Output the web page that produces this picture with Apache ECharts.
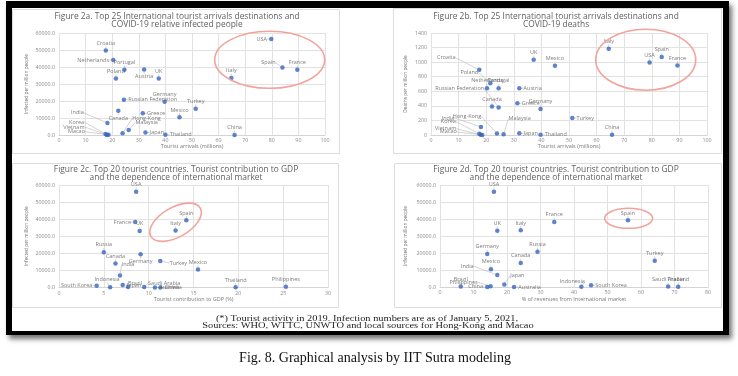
<!DOCTYPE html>
<html><head><meta charset="utf-8">
<script src="https://cdn.jsdelivr.net/npm/echarts@6/dist/echarts.min.js"></script>
<style>html,body{margin:0;padding:0;background:#fff}#c{width:738px;height:376px}</style>
</head><body><div id="c"></div>
<script>
// ---------- Figure 2a: arrivals vs infected per million ----------
const names2a = ['USA','Spain','France','Italy','Croatia','Netherlands','Portugal','Austria','UK','Poland','Russian Federation','Germany','Turkey','Greece','Canada','Mexico','India','Hong-Kong','Malaysia','Japan','Thailand','China','Korea','Vietnam','Macao'];
const arrivals2a = [79.8,84.0,89.6,64.8,17.6,20.4,24.6,32.0,37.5,21.4,24.4,39.7,51.4,31.5,22.3,45.3,18.2,23.9,26.2,32.5,40.0,66.0,17.5,18.0,18.6];
const infected2a = [56400,39700,38400,33600,49700,44100,38400,38500,33200,33200,20800,19500,15500,12800,14200,10400,7100,1000,2900,1400,100,60,600,30,150];

// ---------- Figure 2b: arrivals vs deaths per million ----------
const names2b = ['Italy','Spain','USA','France','UK','Mexico','Croatia','Poland','Netherlands','Portugal','Russian Federation','Austria','Greece','Canada','Germany','Turkey','Malaysia','Hong-Kong','Japan','Thailand','China','India','Korea','Vietnam','Macao'];
const arrivals2b = [64.4,83.6,79.2,89.3,37.2,44.9,17.5,21.5,20.3,24.5,24.5,32.0,31.3,22.1,39.7,51.2,26.3,23.9,32.0,39.7,65.6,18.1,17.5,18.0,18.6];
const deaths2b = [1184,1070,996,954,1033,950,895,712,643,643,376,643,436,390,358,234,10,20,23,3,3,110,18,3,1];

// ---------- Figures 2c / 2d: top 20 tourist countries ----------
const names20 = ['USA','Spain','France','Italy','UK','Russia','Germany','Turkey','Canada','Mexico','India','South Korea','Indonesia','Japan','Brazil','Saudi Arabia','Australia','China','Thailand','Philippines'];
const infected20 = [56000,39300,38300,33400,33100,20700,19400,15500,14100,10500,7000,1000,130,1500,300,300,30,60,100,430];
const gdpShare20 = [8.6,14.2,8.5,13.0,9.0,5.0,9.1,11.3,6.3,15.5,6.8,4.2,5.7,7.1,7.7,9.5,10.7,11.3,19.7,25.3];
const intlShare20 = [16.1,56.1,34.1,24.1,17.1,29.1,14.1,64.1,24.1,15.2,17.1,45.1,42.2,19.2,6.2,68.1,22.1,14.1,71.1,15.1];

// ---------- texts ----------
const titles = [
  ['Figure 2a. Top 25 International tourist arrivals destinations and','COVID-19 relative infected people'],
  ['Figure 2b. Top 25 International tourist arrivals destinations and','COVID-19 deaths'],
  ['Figure 2c. Top 20 tourist countries. Tourist contribution to GDP','and the dependence of international market'],
  ['Figure 2d. Top 20 tourist countries. Tourist contribution to GDP','and the dependence of international market']
];
const xNames = ['Tourist arrivals (millions)','Tourist arrivals (millions)','Tourist contribution to GDP (%)','% of revenues from International market'];
const yNames = ['Infected per million people','Deaths per million people','Infected per million people','Infected per million people'];
const footnote1 = '(*) Tourist activity in 2019. Infection numbers are as of January 5, 2021,';
const footnote2 = 'Sources: WHO, WTTC, UNWTO and local sources for Hong-Kong and Macao';
const caption = 'Fig. 8. Graphical analysis by IIT Sutra modeling';

// ---------- label placement (style) ----------
const place2a = {USA:'left',Spain:[-14,-5],France:'top',Italy:'top',Croatia:'top',Netherlands:'left',Portugal:'top',Austria:'bottom',UK:'top',Poland:'top','Russian Federation':'right',Germany:'top',Turkey:'top',Greece:'right',Canada:'bottom',Mexico:'top',India:[-30,-10],'Hong-Kong':[24,-15],Malaysia:[18,-8],Japan:'right',Thailand:'right',China:'top',Korea:[-29,-12],Vietnam:[-33,-8],Macao:[-32,-3]};
const place2b = {Italy:'top',Spain:'top',USA:'top',France:'top',UK:'top',Mexico:'top',Croatia:[-33,-12],Poland:[-21,-11],Netherlands:'top',Portugal:'top','Russian Federation':[-39,-19],Austria:'right',Greece:'right',Canada:'top',Germany:'top',Turkey:'right',Malaysia:[16,-16],'Hong-Kong':[-30,-17],Japan:'right',Thailand:'right',China:'top',India:[-33,-9],Korea:[-31,-12],Vietnam:[-35,-6],Macao:[-34,-3]};
const place2c = {USA:'top',Spain:'top',France:'left',Italy:'top',UK:'top',Russia:'top',Germany:'bottom',Turkey:[18,2],Canada:'top',Mexico:'top',India:[8,-11],'South Korea':'left',Indonesia:[-3,-8],Japan:'right',Brazil:[7,-4],'Saudi Arabia':[20,-4],Australia:'right',China:'right',Thailand:'top',Philippines:'top'};
const place2d = {USA:'top',Spain:'top',France:'top',Italy:'top',UK:'top',Russia:'top',Germany:'top',Turkey:'top',Canada:'top',Mexico:'top',India:[-30,-9],'South Korea':'right',Indonesia:[-9,-5],Japan:[13,-9],Brazil:'top','Saudi Arabia':'top',Australia:'right',China:'left',Thailand:'top',Philippines:[-27,-4]};

const FONT = '"Open Sans", sans-serif';
const SERIF = '"Liberation Serif", "Times New Roman", serif';
const GRID_COLOR = '#e2e2e2';
const LABEL_GRAY = '#8c8c8c';

function mkSeries(gi, names, xs, ys, place) {
  const data = names.map((n, i) => {
    const p = place[n] || 'top';
    return {name: n, value: [xs[i], ys[i]], label: {position: Array.isArray(p) ? 'inside' : p}};
  });
  return {
    type: 'scatter', xAxisIndex: gi, yAxisIndex: gi, data: data,
    symbol: 'circle', symbolSize: 4.5,
    itemStyle: {color: '#3564bd'},
    label: {show: true, formatter: '{b}', fontSize: 5.5, color: '#5a5a5a', distance: 2, fontFamily: FONT},
    labelLine: {show: true, lineStyle: {color: '#b5b5b5', width: 0.6}},
    labelLayout: function (params) {
      const p = place[names[params.dataIndex]];
      if (Array.isArray(p)) {
        const cx = params.rect.x + params.rect.width / 2;
        const cy = params.rect.y + params.rect.height / 2;
        return {x: cx + p[0], y: cy + p[1], align: 'center', verticalAlign: 'middle'};
      }
      return {};
    },
    emphasis: {disabled: true}
  };
}

function mkX(gi, max, interval, nameGap) {
  return {
    gridIndex: gi, type: 'value', min: 0, max: max, interval: interval,
    name: xNames[gi], nameLocation: 'middle', nameGap: nameGap,
    nameTextStyle: {fontSize: 5.5, color: '#7a7a7a', fontFamily: FONT},
    axisLine: {show: true, lineStyle: {color: '#d4d4d4', width: 1}},
    axisTick: {show: false},
    axisLabel: {fontSize: 5.3, color: LABEL_GRAY, margin: 3, fontFamily: FONT},
    splitLine: {show: true, lineStyle: {color: GRID_COLOR, width: 1}}
  };
}
function mkY(gi, max, interval, nameGap, decimals) {
  return {
    gridIndex: gi, type: 'value', min: 0, max: max, interval: interval,
    name: yNames[gi], nameLocation: 'middle', nameGap: nameGap, nameRotate: 90,
    nameTextStyle: {fontSize: 4.8, color: '#6a6a6a', fontFamily: FONT},
    axisLine: {show: false}, axisTick: {show: false},
    axisLabel: {fontSize: 5.3, color: LABEL_GRAY, margin: 4, fontFamily: FONT,
      formatter: v => decimals ? v.toFixed(1) : String(v)},
    splitLine: {show: true, lineStyle: {color: GRID_COLOR, width: 1}}
  };
}

const panels = [
  {x: 12, y: 9, w: 327, h: 144, tx: 177, ty: 16.5},
  {x: 393, y: 8, w: 328, h: 145, tx: 556, ty: 16.5},
  {x: 12, y: 163, w: 326, h: 144, tx: 176, ty: 169.5},
  {x: 394, y: 163, w: 327, h: 144, tx: 556, ty: 169.5}
];

const highlights = [
  {grid: 0, center: [79.2, 44250], rx: 55, ry: 28.5, rot: 0},
  {grid: 1, center: [77.8, 1033], rx: 50, ry: 30.5, rot: 0},
  {grid: 2, center: [13.0, 38200], rx: 28.5, ry: 14.8, rot: 0.52},
  {grid: 3, center: [56.3, 40400], rx: 24, ry: 10, rot: 0}
];

function txt(text, x, y, size, color, family, scaleX) {
  return {type: 'text', z: 20, x: x, y: y, scaleX: scaleX || 1,
    style: {text: text, x: 0, y: 0, fontSize: size, fontFamily: family, fill: color,
      align: 'center', verticalAlign: 'middle'}};
}

const graphics = [];
// black frame with shadow
graphics.push({type: 'rect', z: -200, shape: {x: 6, y: 1, width: 723, height: 334},
  style: {fill: '#000', shadowBlur: 5, shadowOffsetX: 3, shadowOffsetY: 4, shadowColor: 'rgba(0,0,0,0.55)'}});
graphics.push({type: 'rect', z: -190, shape: {x: 12, y: 8, width: 711, height: 323}, style: {fill: '#fff'}});
// panels
panels.forEach((p, i) => {
  graphics.push({type: 'rect', z: -180, shape: {x: p.x + 0.5, y: p.y + 0.5, width: p.w, height: p.h},
    style: {fill: '#fff', stroke: '#dcdcdc', lineWidth: 1}});
  graphics.push(txt(titles[i][0], p.tx, p.ty, 8.4, '#5f5f5f', FONT));
  graphics.push(txt(titles[i][1], p.tx, p.ty + 8.3, 8.4, '#5f5f5f', FONT));
});
graphics.push(txt(footnote1, 367, 318.5, 8, '#222', SERIF, 1.3));
graphics.push(txt(footnote2, 368, 325.8, 8, '#222', SERIF, 1.3));
graphics.push(txt(caption, 375, 358, 14, '#111', SERIF));

const option = {
  animation: false,
  backgroundColor: '#fff',
  grid: [
    {left: 59, top: 33, width: 266, height: 102},
    {left: 431, top: 33, width: 276, height: 102},
    {left: 59, top: 185, width: 269, height: 102.5},
    {left: 440, top: 185, width: 268, height: 102}
  ],
  xAxis: [mkX(0, 100, 10, 8.5), mkX(1, 100, 10, 8.5), mkX(2, 30, 5, 7), mkX(3, 80, 10, 9.5)],
  yAxis: [mkY(0, 60000, 10000, 30, true), mkY(1, 1400, 200, 23, false), mkY(2, 60000, 10000, 30, true), mkY(3, 60000, 10000, 32, true)],
  series: [
    mkSeries(0, names2a, arrivals2a, infected2a, place2a),
    mkSeries(1, names2b, arrivals2b, deaths2b, place2b),
    mkSeries(2, names20, gdpShare20, infected20, place2c),
    mkSeries(3, names20, intlShare20, infected20, place2d)
  ],
  graphic: {elements: graphics}
};

const chart = echarts.init(document.getElementById('c'), null, {renderer: 'canvas'});
chart.setOption(option);

// highlight ellipses positioned through the axes' scales
const ellipses = highlights.map(h => {
  const c = chart.convertToPixel({gridIndex: h.grid}, h.center);
  return {type: 'ellipse', z: 30, x: c[0], y: c[1], rotation: h.rot,
    shape: {cx: 0, cy: 0, rx: h.rx, ry: h.ry},
    style: {fill: 'none', stroke: '#f2a39b', lineWidth: 1.6}};
});
chart.setOption({graphic: {elements: graphics.concat(ellipses)}}, {replaceMerge: ['graphic']});
</script>
</body></html>
